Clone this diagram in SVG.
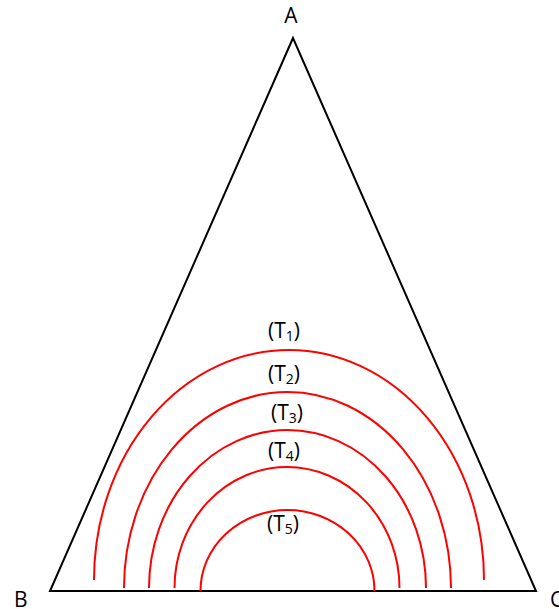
<svg xmlns="http://www.w3.org/2000/svg" width="559" height="609" viewBox="0 0 559 609">
<style>
.lbl{font-family:"Open Sans","Liberation Sans",sans-serif;font-size:21px;fill:#000}
.t{font-family:"Open Sans","Liberation Sans",sans-serif;font-size:21px;fill:#000;text-anchor:middle}
.sub{font-size:14px}
.tri{fill:none;stroke:#000;stroke-width:2}
.arc{fill:none;stroke:#ff0000;stroke-width:2}
</style>
<rect width="559" height="609" fill="#fff"/>
<g id="triangle">
<polygon class="tri" points="293,38 50,591 536,591"/>
</g>
<g id="arcs">
<path id="arc1" class="arc" d="M94,580 A195,230 0 0 1 484,580"/>
<path id="arc2" class="arc" d="M124,588 A163.5,196 0 0 1 451,588"/>
<path id="arc3" class="arc" d="M149,588 A138.5,158 0 0 1 426,588"/>
<path id="arc4" class="arc" d="M174.5,588 A112.5,121 0 0 1 399.5,588"/>
<path id="arc5" class="arc" d="M200.5,591 A87,81 0 0 1 374.5,591"/>
</g>
<g id="labels">
<text class="lbl" x="291" y="23" text-anchor="middle">A</text>
<text class="lbl" x="14" y="607">B</text>
<text class="lbl" x="550" y="607">C</text>
<text class="t" x="284" y="338">(T<tspan class="sub" dy="3">1</tspan><tspan dy="-3">)</tspan></text>
<text class="t" x="284" y="381">(T<tspan class="sub" dy="3">2</tspan><tspan dy="-3">)</tspan></text>
<text class="t" x="287" y="420">(T<tspan class="sub" dy="3">3</tspan><tspan dy="-3">)</tspan></text>
<text class="t" x="284" y="458">(T<tspan class="sub" dy="3">4</tspan><tspan dy="-3">)</tspan></text>
<text class="t" x="283" y="531">(T<tspan class="sub" dy="3">5</tspan><tspan dy="-3">)</tspan></text>
</g>
</svg>
